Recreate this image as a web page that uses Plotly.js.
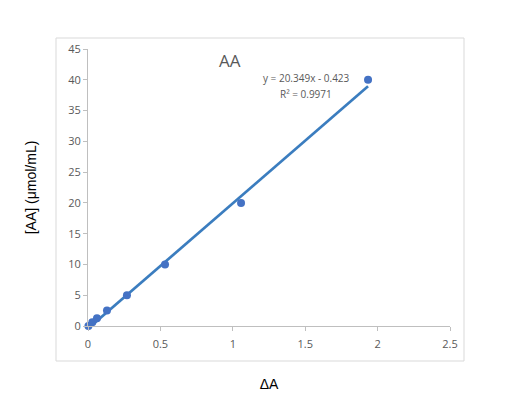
<!DOCTYPE html>
<html>
<head>
<meta charset="utf-8">
<script src="https://cdn.plot.ly/plotly-3.0.1.min.js"></script>
<style>html,body{margin:0;padding:0;background:#fff;}#chart{width:512px;height:401px;}</style>
</head>
<body>
<div id="chart"></div>
<script>
// Data
const deltaA = [0.003, 0.03, 0.062, 0.131, 0.269, 0.532, 1.057, 1.934];
const concAA = [0, 0.625, 1.25, 2.5, 5, 10, 20, 40];
const slope = 20.349;
const intercept = -0.423;
const r2 = 0.9971;
const xTicks = [0, 0.5, 1, 1.5, 2, 2.5];
const xTickText = ['0', '0.5', '1', '1.5', '2', '2.5'];
const yTicks = [0, 5, 10, 15, 20, 25, 30, 35, 40, 45];

const xMin = Math.min(...deltaA), xMax = Math.max(...deltaA);
const fitX = [xMin, xMax];
const fitY = fitX.map(x => slope * x + intercept);

const blue = '#4472c4';
const lineBlue = '#3b7dbf';
const gray = '#595959';
const font = 'Open Sans, Liberation Sans, sans-serif';

const data = [
  {x: fitX, y: fitY, mode: 'lines', type: 'scatter', line: {color: lineBlue, width: 2.7}, hoverinfo: 'skip', showlegend: false, cliponaxis: false},
  {x: deltaA, y: concAA, mode: 'markers', type: 'scatter', marker: {color: blue, size: 8}, showlegend: false, cliponaxis: false}
];

const layout = {
  width: 512, height: 401,
  margin: {l: 88, r: 62, t: 49, b: 75},
  paper_bgcolor: '#fff', plot_bgcolor: '#fff',
  font: {family: font, size: 11, color: gray},
  showlegend: false,
  xaxis: {
    range: [0, 2.5], tickvals: xTicks, ticktext: xTickText,
    showgrid: false, zeroline: false, showline: true, linecolor: '#bfbfbf', linewidth: 1,
    ticks: 'outside', ticklen: 4, tickcolor: '#bfbfbf', ticklabelstandoff: 4,
    tickfont: {family: font, size: 11, color: gray},
    title: {text: 'ΔA', font: {family: 'Liberation Sans, Arial, sans-serif', size: 14, color: '#000'}, standoff: 28}
  },
  yaxis: {
    range: [0, 45], tickvals: yTicks,
    showgrid: false, zeroline: false, showline: true, linecolor: '#bfbfbf', linewidth: 1,
    ticks: 'outside', ticklen: 4, tickcolor: '#bfbfbf',
    tickfont: {family: font, size: 11, color: gray},
    title: {text: '[AA] (μmol/mL)', font: {family: 'Liberation Sans, Arial, sans-serif', size: 14, color: '#000'}, standoff: 28}
  },
  annotations: [
    {xref: 'paper', yref: 'paper', x: (230 - 88) / 362, y: (326 - 60) / 277, text: 'AA', showarrow: false,
     xanchor: 'center', yanchor: 'middle', font: {family: font, size: 17, color: gray}},
    {xref: 'paper', yref: 'paper', x: (306 - 88) / 362, y: (326 - 78) / 277,
     text: 'y = ' + slope.toFixed(3) + 'x - ' + Math.abs(intercept).toFixed(3), showarrow: false,
     xanchor: 'center', yanchor: 'middle', font: {family: font, size: 10, color: gray}},
    {xref: 'paper', yref: 'paper', x: (306 - 88) / 362, y: (326 - 94) / 277,
     text: 'R² = ' + r2.toFixed(4), showarrow: false,
     xanchor: 'center', yanchor: 'middle', font: {family: font, size: 10, color: gray}}
  ],
  shapes: [
    {type: 'rect', xref: 'paper', yref: 'paper',
     x0: (56 - 88) / 362, x1: (464 - 88) / 362, y0: (326 - 361) / 277, y1: (326 - 38) / 277,
     line: {color: '#d9d9d9', width: 1}, fillcolor: 'rgba(0,0,0,0)', layer: 'below'}
  ]
};

Plotly.newPlot('chart', data, layout, {displayModeBar: false, staticPlot: true});
</script>
</body>
</html>
